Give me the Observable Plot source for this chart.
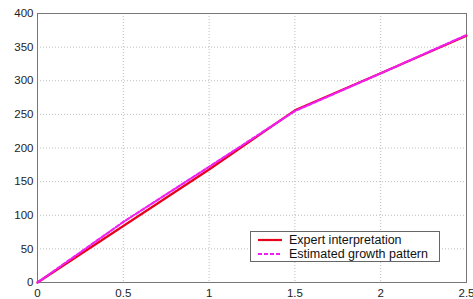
<!DOCTYPE html>
<html>
<head>
<meta charset="utf-8">
<script src="https://cdn.jsdelivr.net/npm/d3@7"></script>
<script src="https://cdn.jsdelivr.net/npm/@observablehq/plot@0.6"></script>
<style>
  html, body { margin: 0; padding: 0; background: #fff; }
  #wrap { position: relative; width: 473px; height: 299px; }
  #legend {
    position: absolute; left: 250px; top: 231px; width: 190px; height: 31px;
    border: 1px solid #666; background: #fff; box-sizing: border-box;
    font-family: "Liberation Sans", Arial, sans-serif; font-size: 12.5px; color: #111;
  }
  .row { position: absolute; left: 0; height: 14px; line-height: 14px; white-space: nowrap; }
  .row svg { position: absolute; left: 7px; top: 0; }
  .row span { position: absolute; left: 38px; top: 0; }
</style>
</head>
<body>
<div id="wrap"></div>
<script>
const xs = [0, 0.5, 1, 1.5, 2, 2.5];
const expert = [0, 84, 168, 256, 311, 367];
const estimated = [0, 90, 172, 255, 311, 368];
const xTicks = [0, 0.5, 1, 1.5, 2, 2.5];
const yTicks = [0, 50, 100, 150, 200, 250, 300, 350, 400];
const seriesNames = ["Expert interpretation", "Estimated growth pattern"];
const seriesColors = ["#e8001c", "#f01ef0"];

const expertData = xs.map((x, i) => ({x, y: expert[i]}));
const estData = xs.map((x, i) => ({x, y: estimated[i]}));

const chart = Plot.plot({
  width: 473,
  height: 299,
  marginLeft: 37,
  marginRight: 7,
  marginTop: 13,
  marginBottom: 17,
  style: { fontFamily: "Liberation Sans, Arial, sans-serif", fontSize: "11.5px", color: "#222", background: "#fff" },
  x: { domain: [0, 2.5], label: null },
  y: { domain: [0, 400], label: null },
  marks: [
    Plot.gridX(xTicks, { stroke: "#bbb", strokeOpacity: 1, strokeDasharray: "1,2", strokeWidth: 1 }),
    Plot.gridY(yTicks, { stroke: "#bbb", strokeOpacity: 1, strokeDasharray: "1,2", strokeWidth: 1 }),
    Plot.frame({ stroke: "#777" }),
    Plot.line(expertData, { x: "x", y: "y", stroke: seriesColors[0], strokeWidth: 2.2 }),
    Plot.line(estData, { x: "x", y: "y", stroke: seriesColors[1], strokeWidth: 2.2, strokeDasharray: "4,2" }),
    Plot.axisX({ ticks: xTicks, tickSize: 0, tickPadding: 6, tickFormat: d => String(d), label: null }),
    Plot.axisY({ ticks: yTicks, tickSize: 0, tickPadding: 4, tickFormat: d => String(d), label: null })
  ]
});
document.getElementById("wrap").appendChild(chart);

// Legend overlay
const legend = document.createElement("div");
legend.id = "legend";
seriesNames.forEach((name, i) => {
  const row = document.createElement("div");
  row.className = "row";
  row.style.top = (i === 0 ? 1 : 15) + "px";
  row.innerHTML = `<svg width="26" height="14"><line x1="0" x2="24" y1="7" y2="7" stroke="${seriesColors[i]}" stroke-width="2.2" ${i === 1 ? 'stroke-dasharray="4,2"' : ''}/></svg><span>${name}</span>`;
  legend.appendChild(row);
});
document.getElementById("wrap").appendChild(legend);
</script>
</body>
</html>
